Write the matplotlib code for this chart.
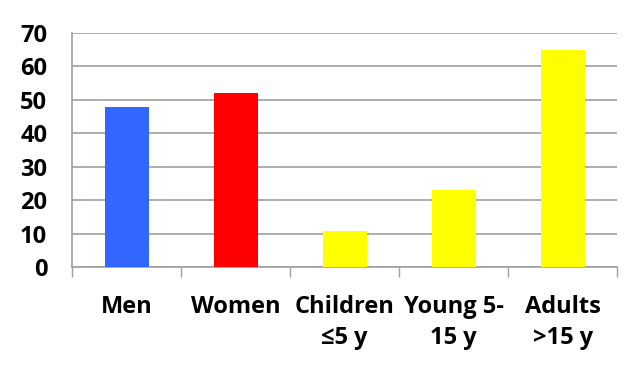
import matplotlib.pyplot as plt
import numpy as np

categories = ['Men', 'Women', 'Children\n≤5 y', 'Young 5-\n15 y', 'Adults\n>15 y']
values = [48, 52, 10.7, 23, 65]
colors = ['#3366ff', '#ff0000', '#ffff00', '#ffff00', '#ffff00']

plt.rcParams['font.family'] = ['Open Sans', 'DejaVu Sans']

fig = plt.figure(figsize=(6.39, 3.71), dpi=100)
ax = fig.add_axes([0.113, 0.280, 0.853, 0.631])

x = np.arange(len(categories))
ax.bar(x, values, width=0.4, color=colors, zorder=3)

ax.set_xlim(-0.5, len(categories) - 0.5)
ax.set_ylim(0, 70)
ax.set_yticks(np.arange(0, 71, 10))
ax.yaxis.grid(True, color='#a0a0a0', linewidth=1.2, zorder=0)

ax.set_xticks(x)
ax.set_xticklabels(categories, fontsize=17, fontweight='bold', linespacing=1.4)
ax.set_xticks(np.arange(-0.5, len(categories)), minor=True)
ax.tick_params(axis='x', which='major', length=0, pad=20)
ax.tick_params(axis='x', which='minor', length=7, color='#a0a0a0', width=1)
ax.tick_params(axis='y', length=0, pad=18, labelsize=17)
for lab in ax.get_yticklabels():
    lab.set_fontweight('bold')

for side in ['top', 'right']:
    ax.spines[side].set_visible(False)
for side in ['left', 'bottom']:
    ax.spines[side].set_color('#a0a0a0')
    ax.spines[side].set_linewidth(1.2)

fig.savefig('out.png', dpi=100)
